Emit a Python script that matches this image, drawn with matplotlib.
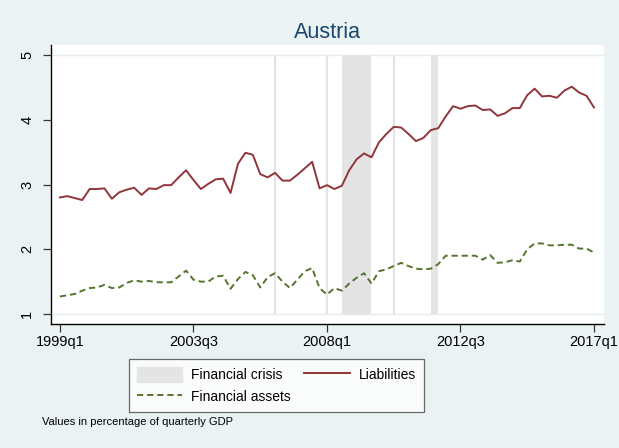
import numpy as np
import matplotlib
matplotlib.use("Agg")
import matplotlib.pyplot as plt
from matplotlib.patches import Patch
from matplotlib.lines import Line2D

plt.rcParams["font.family"] = ["Liberation Sans", "DejaVu Sans"]

# quarterly series, 1999q1 .. 2017q1 (percent of quarterly GDP)
liabilities = [
    2.80, 2.82, 2.79, 2.76, 2.93, 2.93, 2.94, 2.78, 2.88, 2.92,
    2.95, 2.84, 2.94, 2.93, 2.99, 2.99, 3.11, 3.22, 3.07, 2.93,
    3.01, 3.08, 3.09, 2.87, 3.32, 3.49, 3.46, 3.16, 3.11, 3.18,
    3.06, 3.06, 3.15, 3.25, 3.35, 2.94, 2.99, 2.93, 2.98, 3.22,
    3.39, 3.48, 3.42, 3.65, 3.78, 3.89, 3.88, 3.78, 3.67, 3.72,
    3.84, 3.87, 4.05, 4.21, 4.17, 4.21, 4.22, 4.15, 4.16, 4.06,
    4.10, 4.18, 4.18, 4.38, 4.48, 4.36, 4.37, 4.34, 4.45, 4.51,
    4.42, 4.37, 4.19,
]
financial_assets = [
    1.27, 1.29, 1.31, 1.36, 1.40, 1.41, 1.45, 1.40, 1.41, 1.48,
    1.52, 1.50, 1.51, 1.49, 1.49, 1.49, 1.58, 1.67, 1.53, 1.50,
    1.50, 1.58, 1.59, 1.39, 1.54, 1.65, 1.60, 1.41, 1.57, 1.63,
    1.50, 1.40, 1.53, 1.66, 1.71, 1.40, 1.30, 1.40, 1.36, 1.47,
    1.56, 1.63, 1.47, 1.66, 1.69, 1.74, 1.79, 1.74, 1.70, 1.69,
    1.70, 1.77, 1.90, 1.90, 1.90, 1.90, 1.90, 1.84, 1.91, 1.79,
    1.80, 1.83, 1.81, 2.00, 2.09, 2.09, 2.06, 2.06, 2.07, 2.07,
    2.01, 2.01, 1.95,
]
quarters = [f"{y}q{q}" for y in range(1999, 2018) for q in range(1, 5)][:len(liabilities)]

# financial crisis periods (first quarter, last quarter)
crisis_periods = [
    ("2006q2", "2006q2"),
    ("2008q1", "2008q1"),
    ("2008q3", "2009q3"),
    ("2010q2", "2010q2"),
    ("2011q3", "2011q4"),
]
xtick_labels = ["1999q1", "2003q3", "2008q1", "2012q3", "2017q1"]
ytick_values = [1, 2, 3, 4, 5]

bg = "#eaf2f3"
crisis_col = "#e4e4e4"
red = "#90353b"
green = "#55752f"
dash = (3.2, 2.0)

fig = plt.figure(figsize=(6.19, 4.48), dpi=100, facecolor=bg)
ax = fig.add_axes([51 / 619, 1 - 324 / 448, 553 / 619, 279 / 448])
ax.set_facecolor("white")

x = np.arange(len(liabilities))
idx = {q: i for i, q in enumerate(quarters)}

for start, end in crisis_periods:
    s, e = idx[start], idx[end]
    if s == e:
        ax.vlines(s, 1, 5, color=crisis_col, linewidth=1.6, zorder=1)
    else:
        ax.fill_between([s, e], 1, 5, color=crisis_col, linewidth=0, zorder=1)

for yv in (1, 5):
    ax.axhline(yv, color="#e3ecee", linewidth=1.0, zorder=0.5)

ax.plot(x, liabilities, color=red, linewidth=1.4, zorder=3)
ax.plot(x, financial_assets, color=green, linewidth=1.4, dashes=dash, zorder=3)

ax.set_xlim(-1.21, 73.35)
ax.set_ylim(1 - 10 / 64.75, 5 + 10 / 64.75)

ax.set_xticks([idx[q] for q in xtick_labels])
ax.set_xticklabels(xtick_labels)
ax.set_yticks(ytick_values)
ax.set_yticklabels([str(v) for v in ytick_values], rotation=90, va="center")

ax.tick_params(axis="both", direction="out", length=6, width=0.9, color="#333333",
               labelsize=10.5, labelcolor="black")
ax.tick_params(axis="x", pad=2)
ax.tick_params(axis="y", pad=6)

for side in ("top", "right"):
    ax.spines[side].set_visible(False)
for side in ("left", "bottom"):
    ax.spines[side].set_color("black")
    ax.spines[side].set_linewidth(1.0)

fig.text(327 / 619, 1 - 33 / 448, "Austria", ha="center", va="center",
         fontsize=15.5, color="#1a476f")

handles = [
    Patch(facecolor=crisis_col, edgecolor=crisis_col),
    Line2D([], [], color=green, linewidth=1.4, dashes=dash),
    Line2D([], [], color=red, linewidth=1.4),
]
labels = ["Financial crisis", "Financial assets", "Liabilities"]
leg = fig.legend(handles, labels, ncol=2, loc="upper left",
                 bbox_to_anchor=(129 / 619, 1 - 359 / 448), bbox_transform=fig.transFigure,
                 borderaxespad=0, frameon=True, fancybox=False, fontsize=10,
                 handlelength=3.3, handleheight=1.3, handletextpad=0.6,
                 columnspacing=1.0, labelspacing=0.5, borderpad=0.55)
leg.get_frame().set_edgecolor("#444444")
leg.get_frame().set_linewidth(0.9)

fig.text(42 / 619, 1 - 422 / 448, "Values in percentage of quarterly GDP",
         ha="left", va="center", fontsize=8, color="black")

fig.savefig("out.png", dpi=100, facecolor=bg)
